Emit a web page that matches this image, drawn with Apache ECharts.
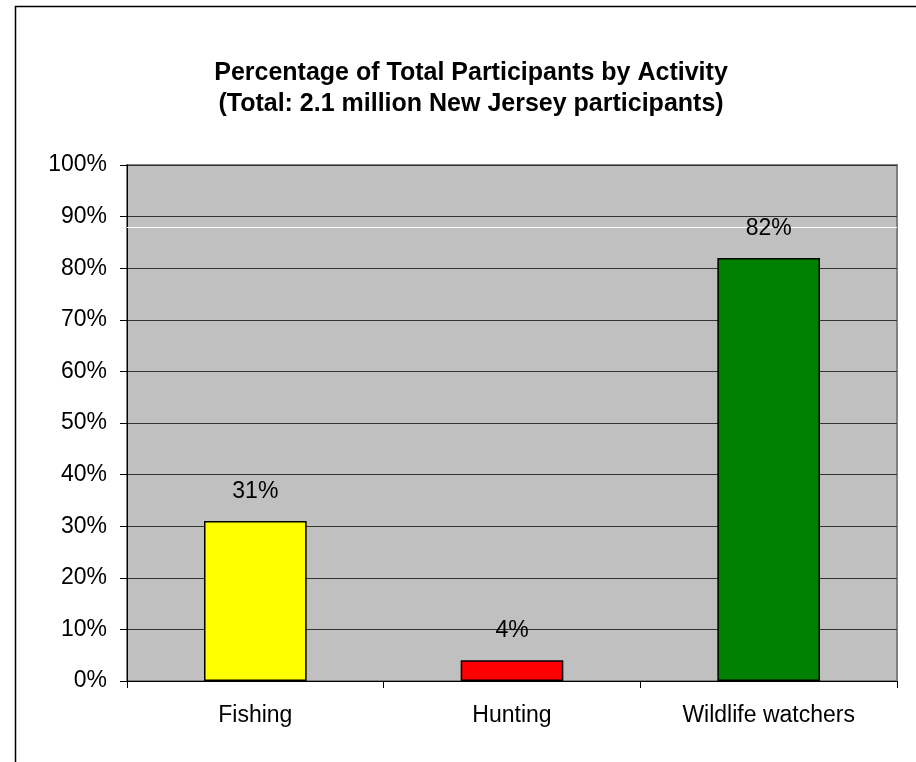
<!DOCTYPE html>
<html>
<head>
<meta charset="utf-8">
<script src="https://cdn.jsdelivr.net/npm/echarts@6/dist/echarts.min.js"></script>
<style>html,body{margin:0;padding:0;background:#fff}#c{width:916px;height:762px}</style>
</head>
<body>
<div id="c"></div>
<script>
const categories = ['Fishing', 'Hunting', 'Wildlife watchers'];
const values = [31, 4, 82];
const barColors = ['#FFFF00', '#FF0000', '#008000'];
const yTicks = [0, 10, 20, 30, 40, 50, 60, 70, 80, 90, 100];
const whiteLineValue = 88;

const chart = echarts.init(document.getElementById('c'));
chart.setOption({
  animation: false,
  backgroundColor: '#fff',
  textStyle: { fontFamily: 'Liberation Sans, Arial, sans-serif' },
  title: {
    text: 'Percentage of Total Participants by Activity\n(Total: 2.1 million New Jersey participants)',
    left: 466, top: 53, textAlign: 'center',
    textStyle: { fontSize: 25, fontWeight: 'bold', color: '#000', lineHeight: 31, fontFamily: 'Liberation Sans, Arial, sans-serif' }
  },
  graphic: [{
    type: 'rect', shape: { x: 15.5, y: 6.5, width: 1200, height: 1200 },
    style: { fill: 'none', stroke: '#000', lineWidth: 1.5 }, silent: true, z: 0
  }],
  grid: {
    left: 127, right: 19, top: 165, bottom: 81,
    show: true, backgroundColor: '#C0C0C0', borderColor: '#808080', borderWidth: 2
  },
  xAxis: {
    type: 'category', data: categories,
    axisLine: { lineStyle: { color: '#000', width: 1 } },
    axisTick: { show: true, length: 7, lineStyle: { color: '#000' } },
    axisLabel: { fontSize: 23, color: '#000', margin: 23 }
  },
  yAxis: {
    type: 'value', min: 0, max: 100, interval: 10,
    axisLine: { show: true, lineStyle: { color: '#000', width: 1 } },
    axisTick: { show: true, length: 7, lineStyle: { color: '#000' } },
    axisLabel: {
      fontSize: 23, color: '#000', margin: 20,
      formatter: v => yTicks.includes(v) ? v + '%' : ''
    },
    splitLine: { show: true, lineStyle: { color: '#333333', width: 1 } }
  },
  series: [{
    type: 'bar',
    barWidth: '40%',
    data: values.map((v, i) => ({ value: v, itemStyle: { color: barColors[i] } })),
    itemStyle: { borderColor: '#000', borderWidth: 1.5 },
    label: { show: true, position: 'top', distance: 18, fontSize: 23, color: '#000', formatter: p => p.value + '%' },
    markLine: {
      silent: true, symbol: 'none', label: { show: false }, z: 1,
      lineStyle: { color: '#fff', width: 1, type: 'solid' },
      data: [{ yAxis: whiteLineValue }]
    }
  }]
});
</script>
</body>
</html>
